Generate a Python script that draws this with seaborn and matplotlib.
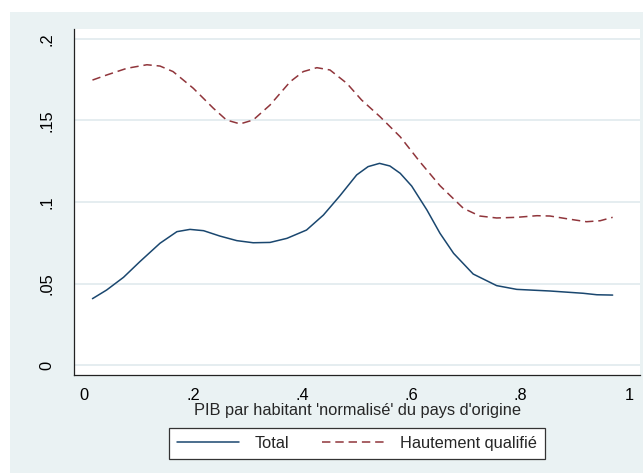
import numpy as np
import pandas as pd
import matplotlib
matplotlib.use("Agg")
import matplotlib.pyplot as plt
from matplotlib.lines import Line2D
from matplotlib.patches import Rectangle
import seaborn as sns

# Density of migrants by normalised GDP per capita of the origin country
total_x = [0.015, 0.041, 0.072, 0.102, 0.139, 0.170, 0.194, 0.219, 0.249, 0.280,
           0.310, 0.341, 0.372, 0.408, 0.439, 0.469, 0.500, 0.521, 0.542, 0.561,
           0.580, 0.601, 0.629, 0.653, 0.678, 0.714, 0.757, 0.794, 0.855, 0.916,
           0.941, 0.970]
total_y = [0.0407, 0.0460, 0.0538, 0.0634, 0.0747, 0.0818, 0.0832, 0.0824, 0.0791, 0.0763,
           0.0750, 0.0752, 0.0777, 0.0828, 0.0920, 0.1037, 0.1166, 0.1217, 0.1237, 0.1221,
           0.1176, 0.1098, 0.0951, 0.0808, 0.0685, 0.0558, 0.0487, 0.0464, 0.0454, 0.0440,
           0.0431, 0.0429]

hq_x = [0.015, 0.041, 0.078, 0.115, 0.139, 0.163, 0.200, 0.237, 0.261, 0.286,
        0.310, 0.341, 0.378, 0.402, 0.427, 0.451, 0.482, 0.509, 0.543, 0.580,
        0.616, 0.653, 0.696, 0.726, 0.757, 0.794, 0.831, 0.855, 0.892, 0.922,
        0.947, 0.970]
hq_y = [0.1748, 0.1779, 0.1820, 0.1842, 0.1834, 0.1800, 0.1698, 0.1575, 0.1503, 0.1479,
        0.1503, 0.1595, 0.1738, 0.1800, 0.1824, 0.1810, 0.1728, 0.1626, 0.1523, 0.1400,
        0.1247, 0.1100, 0.0961, 0.0914, 0.0902, 0.0906, 0.0916, 0.0914, 0.0894, 0.0879,
        0.0885, 0.0906]

series_names = ["Total", "Hautement qualifié"]
x_ticks = [0, 0.2, 0.4, 0.6, 0.8, 1.0]
x_tick_labels = ["0", ".2", ".4", ".6", ".8", "1"]
y_ticks = [0, 0.05, 0.1, 0.15, 0.2]
y_tick_labels = ["0", ".05", ".1", ".15", ".2"]
x_title = "PIB par habitant 'normalisé' du pays d'origine"

df = pd.concat([
    pd.DataFrame({"x": total_x, "y": total_y, "serie": series_names[0]}),
    pd.DataFrame({"x": hq_x, "y": hq_y, "serie": series_names[1]}),
], ignore_index=True)

sns.set_style("white")
plt.rcParams["font.family"] = ["Liberation Sans", "DejaVu Sans"]

navy = "#1a476f"
maroon = "#90353b"
panel = "#eaf2f3"
grid_c = "#e3ecef"
lw = 1.1
dash = (5.5, 3.2)
fs = 11.8

fig = plt.figure(figsize=(6.43, 4.73), dpi=100, facecolor="white")
fig.patches.append(Rectangle((10 / 643, 0), 1, (473 - 12) / 473,
                             transform=fig.transFigure, facecolor=panel,
                             edgecolor="none", zorder=-10))

ax = fig.add_axes([74 / 643, 1 - 375 / 473, 566 / 643, 346 / 473])
ax.set_facecolor("white")

sns.lineplot(data=df, x="x", y="y", hue="serie", style="serie",
             hue_order=series_names, style_order=series_names,
             palette={series_names[0]: navy, series_names[1]: maroon},
             dashes={series_names[0]: "", series_names[1]: dash},
             estimator=None, sort=False, linewidth=lw, ax=ax, legend=False)

ax.set_xlim(-0.0189, 1.0202)
ax.set_ylim(-0.00613, 0.20613)
ax.set_xticks(x_ticks)
ax.set_xticklabels(x_tick_labels, fontsize=fs)
ax.set_yticks(y_ticks)
ax.set_yticklabels(y_tick_labels, fontsize=fs, rotation=90, va="center")
ax.set_xlabel(x_title, fontsize=fs, labelpad=0)
ax.set_ylabel("")

ax.grid(axis="y", color=grid_c, linewidth=1.3)
ax.grid(axis="x", visible=False)
ax.set_axisbelow(True)
for side in ("top", "right"):
    ax.spines[side].set_visible(False)
for side in ("left", "bottom"):
    ax.spines[side].set_color("#222222")
    ax.spines[side].set_linewidth(0.9)
ax.tick_params(axis="both", which="major", length=5, width=0.9, color="#555555",
               labelcolor="black")
ax.tick_params(axis="x", pad=4)
ax.tick_params(axis="y", pad=9)

handles = [Line2D([], [], color=navy, linewidth=lw),
           Line2D([], [], color=maroon, linewidth=lw, dashes=dash)]
leg = fig.legend(handles, series_names, loc="center",
                 bbox_to_anchor=(357 / 643, 1 - 443.5 / 473), ncol=2,
                 fontsize=fs, frameon=True, fancybox=False, shadow=False,
                 handlelength=3.8, handletextpad=0.95, columnspacing=2.0,
                 borderpad=0.5, borderaxespad=0)
frame = leg.get_frame()
frame.set_edgecolor("#333333")
frame.set_linewidth(0.9)
frame.set_facecolor("white")
frame.set_alpha(1)

fig.savefig("out.png", dpi=100, facecolor=fig.get_facecolor())
